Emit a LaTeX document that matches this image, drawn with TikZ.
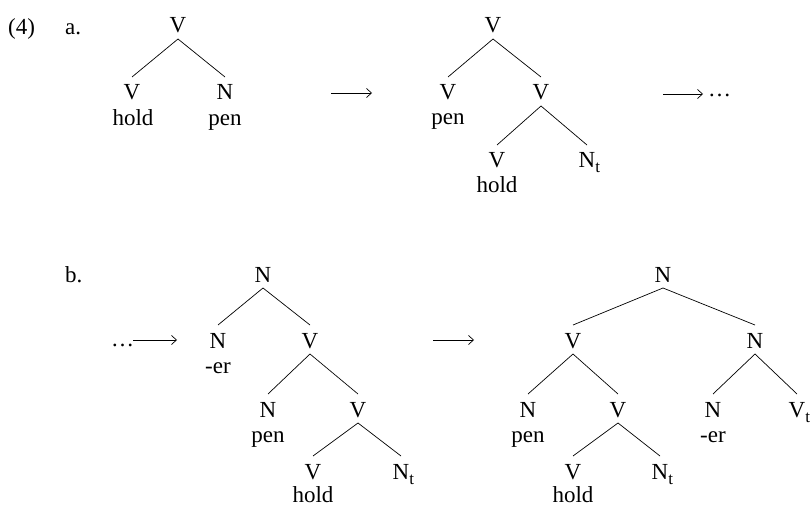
\documentclass[tikz,border=0pt]{standalone}
\usepackage{fontspec}
\setmainfont{Liberation Serif}
\usetikzlibrary{arrows.meta}
\tikzset{
  lab/.style={inner sep=0pt, anchor=base, font=\fontsize{23}{23}\selectfont},
  lw/.style={inner sep=0pt, anchor=base west, font=\fontsize{23}{23}\selectfont},
  edge/.style={line width=0.7pt},
  arr/.style={line width=0.7pt, -{Straight Barb[length=5pt,width=9pt,line width=0.7pt]}}
}
\newcommand{\tsub}{\rlap{\raisebox{-5pt}{\fontsize{17}{17}\selectfont t}}}
\newcommand{\br}[2]{\draw[edge] ([yshift=-6pt]#1.base) -- ([yshift=23pt]#2.base);}
\begin{document}
\begin{tikzpicture}[x=1pt,y=-1pt]
\useasboundingbox (0,0) rectangle (812,508);
\clip (0,0) rectangle (812,508);
% labels
\node[lw] (ex) at (8,35) {(4)};
\node[lw] (la) at (65,35) {a.};
\node[lw] (lb) at (65,282) {b.};
% tree a1
\node[lab] (a1r) at (178,33) {V};
\node[lab] (a1v) at (132,100) {V};
\node[lab] (a1n) at (225,100) {N};
\node[lab] (a1hold) at (133,126) {hold};
\node[lab] (a1pen) at (225,126) {pen};
\br{a1r}{a1v} \br{a1r}{a1n}
% arrow 1
\coordinate (ar1s) at (331,93);
\coordinate (ar1e) at (372,93);
\draw[arr] (ar1s) -- (ar1e);
% tree a2
\node[lab] (a2r) at (493,33) {V};
\node[lab] (a2v) at (448,100) {V};
\node[lab] (a2pen) at (448,125) {pen};
\node[lab] (a2w) at (541,100) {V};
\node[lab] (a2vv) at (497,168) {V};
\node[lab] (a2hold) at (497,193) {hold};
\node[lab] (a2nt) at (587,168) {N\tsub};
\br{a2r}{a2v} \br{a2r}{a2w}
\br{a2w}{a2vv} \br{a2w}{a2nt}
% arrow 2
\coordinate (ar2s) at (663,94);
\coordinate (ar2e) at (703,94);
\draw[arr] (ar2s) -- (ar2e);
\node[lw] (dots1) at (708,97) {…};
% b: dots and arrow
\node[lw] (dots2) at (111,346) {…};
\coordinate (ar3s) at (133,340);
\coordinate (ar3e) at (177,340);
\draw[arr] (ar3s) -- (ar3e);
% tree b1
\node[lab] (b1r) at (263,282) {N};
\node[lab] (b1n) at (218,348) {N};
\node[lab] (b1er) at (218,373) {-er};
\node[lab] (b1v) at (310,348) {V};
\node[lab] (b1n2) at (268,417) {N};
\node[lab] (b1pen) at (268,442) {pen};
\node[lab] (b1v2) at (358,417) {V};
\node[lab] (b1v3) at (313,479) {V};
\node[lab] (b1hold) at (313,502) {hold};
\node[lab] (b1nt) at (401,479) {N\tsub};
\br{b1r}{b1n} \br{b1r}{b1v}
\br{b1v}{b1n2} \br{b1v}{b1v2}
\br{b1v2}{b1v3} \br{b1v2}{b1nt}
% arrow 3
\coordinate (ar4s) at (433,340);
\coordinate (ar4e) at (474,340);
\draw[arr] (ar4s) -- (ar4e);
% tree b2
\node[lab] (b2r) at (663,282) {N};
\node[lab] (b2v) at (573,348) {V};
\node[lab] (b2n) at (755,348) {N};
\node[lab] (b2n2) at (528,417) {N};
\node[lab] (b2pen) at (528,442) {pen};
\node[lab] (b2v2) at (618,417) {V};
\node[lab] (b2v3) at (573,479) {V};
\node[lab] (b2hold) at (573,502) {hold};
\node[lab] (b2nt) at (660,479) {N\tsub};
\node[lab] (b2n3) at (713,417) {N};
\node[lab] (b2er) at (713,442) {-er};
\node[lab] (b2vt) at (797,417) {V\tsub};
\br{b2r}{b2v} \br{b2r}{b2n}
\br{b2v}{b2n2} \br{b2v}{b2v2}
\br{b2v2}{b2v3} \br{b2v2}{b2nt}
\br{b2n}{b2n3} \br{b2n}{b2vt}
\end{tikzpicture}
\end{document}
